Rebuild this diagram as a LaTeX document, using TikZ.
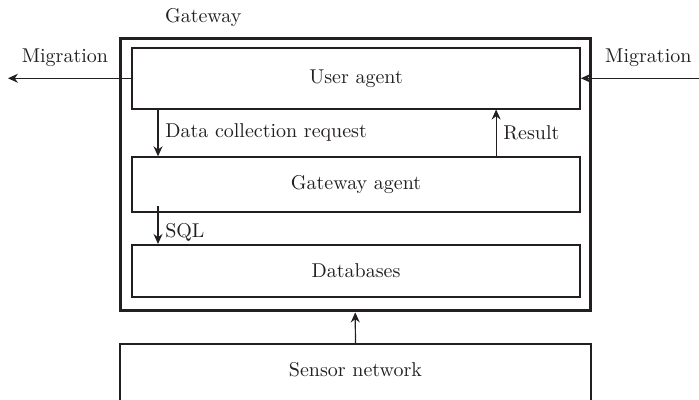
\documentclass[tikz,border=0pt]{standalone}
\usepackage{tikz}
\usetikzlibrary{arrows.meta}

\definecolor{ink}{RGB}{35,31,32}

\begin{document}
\begin{tikzpicture}[
  every node/.style={text=ink},
  box/.style={draw=ink, line width=0.8pt, minimum width=7.87cm, inner sep=0pt},
  link/.style={draw=ink, line width=0.6pt, -{Stealth[length=5pt,width=4.5pt]}}
]
\useasboundingbox (0,0) rectangle (12.28,7.01);
\clip (0,0) rectangle (12.28,7.01);
% gateway frame and its agents
\draw node[draw=ink, line width=1.6pt, minimum width=8.26cm, minimum height=4.79cm] (gw) at (6.24,3.945) {};
\draw node (gwlab) at (3.57,6.71) {Gateway};
\draw node[box, minimum height=1.07cm] (ua) at (6.255,5.635) {User agent};
\draw node[box, minimum height=0.96cm] (ga) at (6.255,3.77) {Gateway agent};
\draw node[box, minimum height=0.92cm] (db) at (6.255,2.25) {Databases};
\draw node[box, minimum width=8.27cm, anchor=north, text height=16pt, text depth=1.2cm] (sn) at (6.245,0.98) {Sensor network};
% migration
\coordinate (lm) at (0.14,5.635);
\coordinate (rm) at (12.28,5.635);
\draw[link] (ua.west) -- (lm);
\draw[link] (rm) -- (ua.east);
\draw node (lmlab) at (1.14,5.99) {Migration};
\draw node (rmlab) at (11.39,5.99) {Migration};
% flows inside the gateway
\draw[link] ([xshift=0.47cm]ua.south west) -- node[right] {Data collection request} ([xshift=0.47cm]ga.north west);
\draw[link] ([xshift=6.41cm]ga.north west) -- node[right] {Result} ([xshift=6.41cm]ua.south west);
\draw[link] ([xshift=0.47cm, yshift=0.12cm]ga.south west) -- node[right, pos=0.7] {SQL} ([xshift=0.47cm]db.north west);
\draw[link] (sn.north) -- (gw.south);
\end{tikzpicture}
\end{document}
